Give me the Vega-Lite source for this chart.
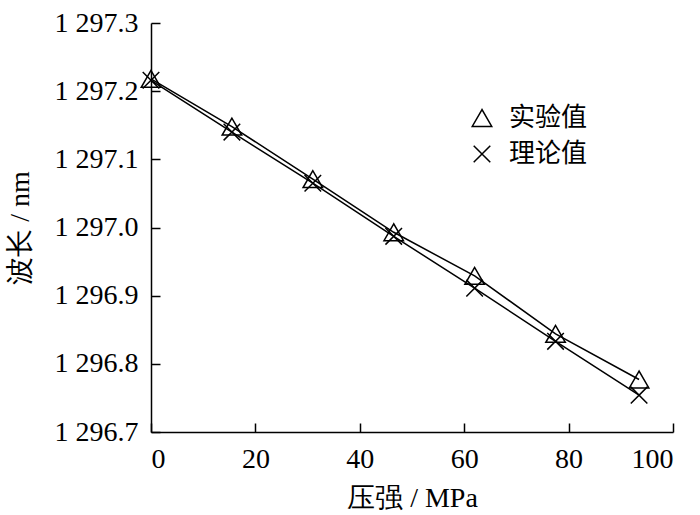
{
  "$schema": "https://vega.github.io/schema/vega-lite/v6.json",
  "width": 522,
  "height": 409,
  "autosize": "none",
  "padding": {"left": 151, "top": 23, "right": 27, "bottom": 83},
  "background": "white",
  "config": {
    "view": {"stroke": null},
    "font": "Liberation Serif",
    "axis": {
      "grid": false,
      "domainColor": "black",
      "domainWidth": 1.5,
      "tickColor": "black",
      "tickWidth": 1.5,
      "tickSize": -9,
      "labelPadding": 22,
      "labelFont": "Liberation Serif",
      "labelFontSize": 28,
      "labelColor": "black",
      "titleFont": "Liberation Serif",
      "titleFontSize": 28,
      "titleFontWeight": "normal",
      "titleColor": "black"
    }
  },
  "data": {
    "values": [
      {"p": 0, "wl": 1297.218, "s": "实验值"},
      {"p": 15.5, "wl": 1297.148, "s": "实验值"},
      {"p": 31, "wl": 1297.071, "s": "实验值"},
      {"p": 46.5, "wl": 1296.993, "s": "实验值"},
      {"p": 62, "wl": 1296.929, "s": "实验值"},
      {"p": 77.5, "wl": 1296.844, "s": "实验值"},
      {"p": 93.5, "wl": 1296.777, "s": "实验值"},
      {"p": 0, "wl": 1297.216, "s": "理论值"},
      {"p": 15.5, "wl": 1297.140, "s": "理论值"},
      {"p": 31, "wl": 1297.065, "s": "理论值"},
      {"p": 46.5, "wl": 1296.987, "s": "理论值"},
      {"p": 62, "wl": 1296.911, "s": "理论值"},
      {"p": 77.5, "wl": 1296.833, "s": "理论值"},
      {"p": 93.5, "wl": 1296.754, "s": "理论值"}
    ]
  },
  "encoding": {
    "x": {
      "field": "p",
      "type": "quantitative",
      "scale": {"domain": [0, 100], "nice": false, "zero": false},
      "axis": {
        "values": [0, 20, 40, 60, 80, 100],
        "title": "压强 / MPa",
        "titlePadding": 11
      }
    },
    "y": {
      "field": "wl",
      "type": "quantitative",
      "scale": {"domain": [1296.7, 1297.3], "nice": false, "zero": false},
      "axis": {
        "values": [1296.7, 1296.8, 1296.9, 1297.0, 1297.1, 1297.2, 1297.3],
        "labelExpr": "'1 ' + format(datum.value - 1000, '.1f')",
        "title": "波长 / nm",
        "titlePadding": 20
      }
    }
  },
  "layer": [
    {
      "mark": {"type": "line", "color": "black", "strokeWidth": 1.5},
      "encoding": {"detail": {"field": "s"}}
    },
    {
      "mark": {"type": "point", "filled": false, "color": "black", "strokeWidth": 1.5, "size": 380, "opacity": 1},
      "encoding": {
        "shape": {
          "field": "s",
          "type": "nominal",
          "sort": ["实验值", "理论值"],
          "scale": {"domain": ["实验值", "理论值"], "range": ["triangle-up", "M-0.85,-0.85L0.85,0.85M-0.85,0.85L0.85,-0.85"]},
          "legend": {
            "title": null,
            "orient": "none",
            "legendX": 318,
            "legendY": 82,
            "symbolSize": 380,
            "symbolStrokeWidth": 1.5,
            "symbolStrokeColor": "black",
            "labelFont": "Noto Sans CJK SC",
            "labelFontSize": 26,
            "labelColor": "black",
            "labelOffset": 14,
            "rowPadding": 10
          }
        }
      }
    }
  ]
}
